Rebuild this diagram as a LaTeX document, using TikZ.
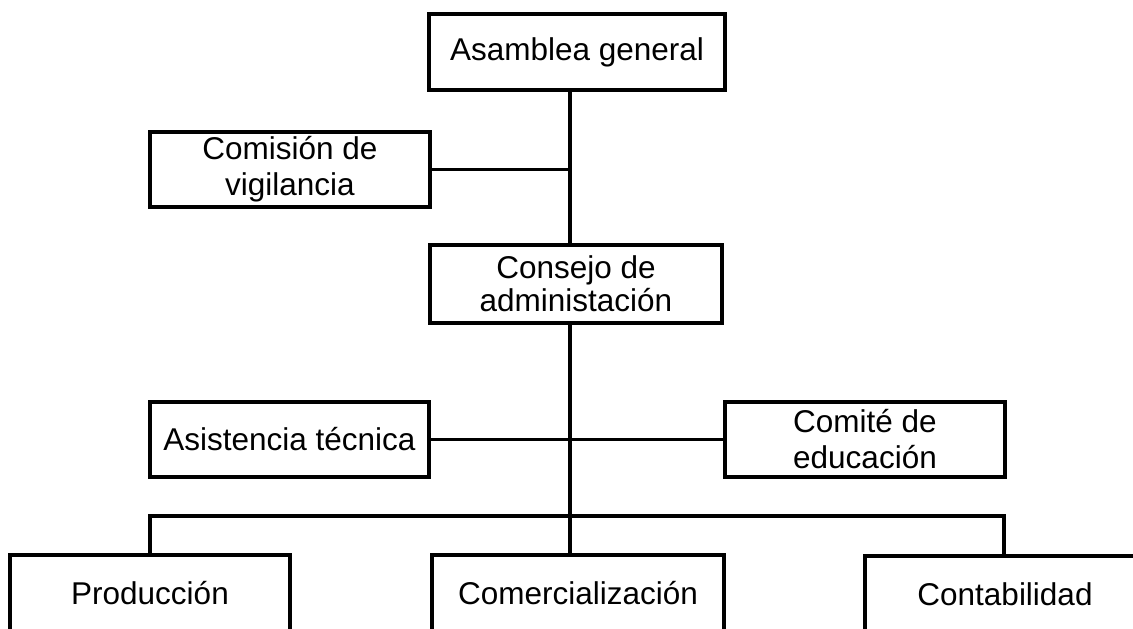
\documentclass[tikz,border=0pt]{standalone}
\usepackage{fontspec}
\setmainfont{Liberation Sans}
\begin{document}
\begin{tikzpicture}[x=1pt,y=-1pt,
  box/.style={draw,line width=3.2pt,rectangle,inner sep=0pt,align=center,
    font=\fontsize{31.5}{36}\selectfont},
  link/.style={line width=3.2pt}]
\useasboundingbox (0,0) rectangle (1133,629);
\node[box,minimum width=296pt,minimum height=76pt] (asam) at (577,52) {Asamblea general};
\node[box,minimum width=280pt,minimum height=75pt] (vig) at (290,169.5) {Comisión de\\vigilancia};
\node[box,minimum width=292pt,minimum height=78pt,font=\fontsize{31.5}{33}\selectfont] (cons) at (576,284) {Consejo de\\administación};
\node[box,minimum width=279pt,minimum height=75pt] (asis) at (289.5,439.5) {Asistencia técnica};
\node[box,minimum width=280pt,minimum height=75pt] (edu) at (865,439.5) {Comité de\\educación};
\node[box,minimum width=280pt,minimum height=76pt] (prod) at (150,593) {Producción};
\node[box,minimum width=292pt,minimum height=76pt] (comer) at (578,593) {Comercialización};
\node[box,minimum width=280pt,minimum height=76pt] (cont) at (1005,594) {Contabilidad};
\coordinate (busL) at (150,516);
\coordinate (busM) at (570,516);
\coordinate (busR) at (1004,516);
\draw[link] (busM |- asam.south) -- (busM |- cons.north);
\draw[link] (vig.east) -- (vig.east -| busM);
\draw[link] (busM |- cons.south) -- (busM |- comer.north);
\draw[link] (asis.east) -- (edu.west);
\draw[link] (busL |- prod.north) -- (busL) -- (busR) -- (busR |- cont.north);
\end{tikzpicture}
\end{document}
